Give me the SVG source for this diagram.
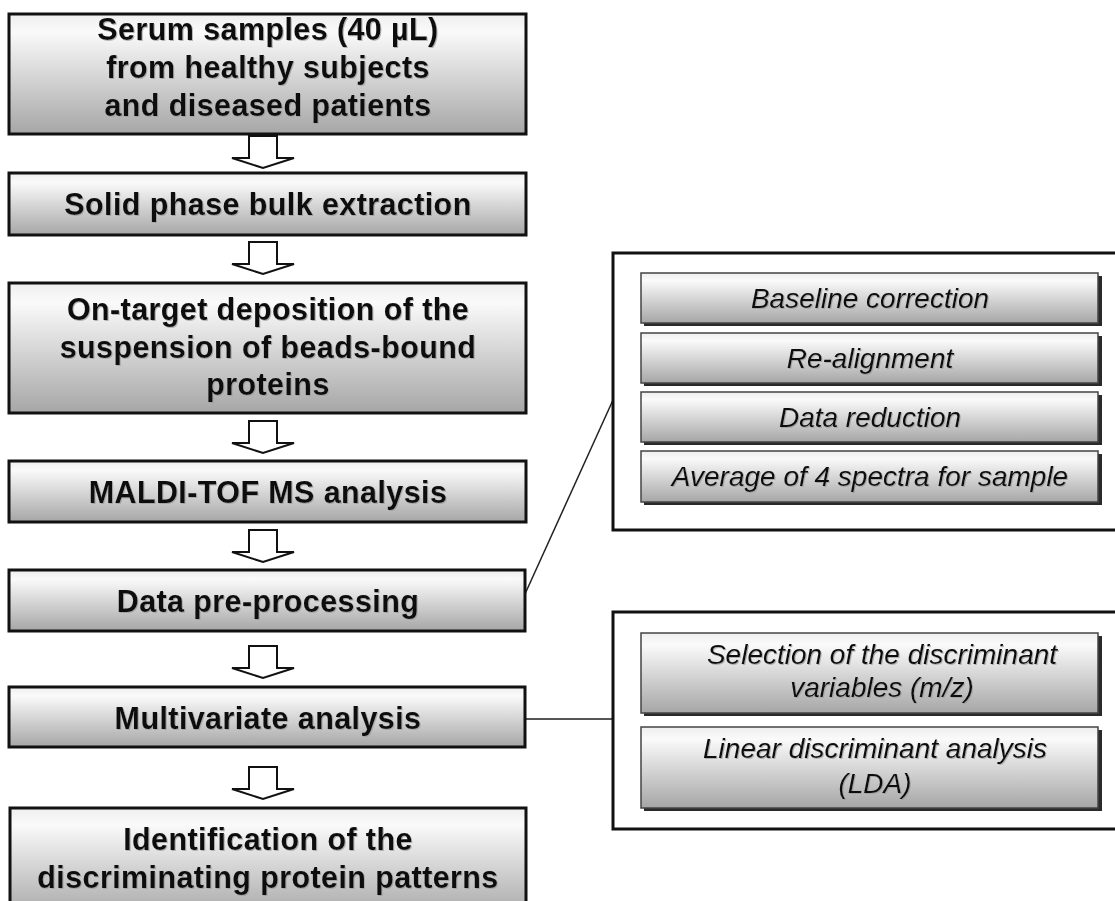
<svg xmlns="http://www.w3.org/2000/svg" width="1115" height="901" viewBox="0 0 1115 901">
<defs>
<linearGradient id="g" x1="0" y1="0" x2="0" y2="1">
<stop offset="0" stop-color="#eeeeee"/>
<stop offset="0.15" stop-color="#fafafa"/>
<stop offset="1" stop-color="#a6a6a6"/>
</linearGradient>
<filter id="ts" x="-5%" y="-20%" width="110%" height="140%">
<feDropShadow dx="1" dy="1" stdDeviation="0.5" flood-color="#999" flood-opacity="0.7"/>
</filter>
<path id="arr" d="M-14,0 H14 V22 H31 L0,32 L-31,22 H-14 Z"/>
</defs>
<style>
.box{fill:url(#g);stroke:#111;stroke-width:3}
.ibox{fill:url(#g);stroke:#444;stroke-width:1.5}
.ishd{fill:#2a2a2a}
.panel{fill:#fff;stroke:#111;stroke-width:3}
.bt{font-family:"Liberation Sans",Arial,sans-serif;font-weight:bold;font-size:30.5px;letter-spacing:0.4px;fill:#111;text-anchor:middle;filter:url(#ts)}
.it{font-family:"Liberation Sans",Arial,sans-serif;font-style:italic;font-size:28px;fill:#111;text-anchor:middle;filter:url(#ts)}
.arrow{fill:#fff;stroke:#111;stroke-width:2;stroke-linejoin:miter}
.line{fill:none;stroke:#222;stroke-width:1.5}
.hline{fill:none;stroke:#555;stroke-width:2}
</style>

<g id="connectors">
<use href="#arr" class="arrow" x="263" y="136"/>
<use href="#arr" class="arrow" x="263" y="242"/>
<use href="#arr" class="arrow" x="263" y="421"/>
<use href="#arr" class="arrow" x="263" y="530"/>
<use href="#arr" class="arrow" x="263" y="646"/>
<use href="#arr" class="arrow" x="263" y="767"/>
<line class="line" x1="525" y1="594" x2="613" y2="400"/>
<line class="hline" x1="525" y1="719" x2="613" y2="719"/>
</g>

<g id="n1">
<rect class="box" x="9" y="14" width="517" height="120"/>
<text class="bt" x="268" y="40">Serum samples (40 µL)</text>
<text class="bt" x="268" y="78">from healthy subjects</text>
<text class="bt" x="268" y="116">and diseased patients</text>
</g>
<g id="n2">
<rect class="box" x="9" y="173" width="517" height="62"/>
<text class="bt" x="268" y="215">Solid phase bulk extraction</text>
</g>
<g id="n3">
<rect class="box" x="9" y="283" width="517" height="130"/>
<text class="bt" x="268" y="320">On-target deposition of the</text>
<text class="bt" x="268" y="358">suspension of beads-bound</text>
<text class="bt" x="268" y="395">proteins</text>
</g>
<g id="n4">
<rect class="box" x="9" y="461" width="517" height="61"/>
<text class="bt" x="268" y="503">MALDI-TOF MS analysis</text>
</g>
<g id="n5">
<rect class="box" x="9" y="570" width="516" height="61"/>
<text class="bt" x="268" y="612">Data pre-processing</text>
</g>
<g id="n6">
<rect class="box" x="9" y="687" width="516" height="60"/>
<text class="bt" x="268" y="729">Multivariate analysis</text>
</g>
<g id="n7">
<rect class="box" x="10" y="808" width="516" height="110"/>
<text class="bt" x="268" y="850">Identification of the</text>
<text class="bt" x="268" y="888">discriminating protein patterns</text>
</g>

<g id="panel1">
<rect class="panel" x="613" y="253" width="520" height="277"/>
<g id="p1a">
<rect class="ishd" x="644" y="276" width="458" height="50"/>
<rect class="ibox" x="641" y="273" width="457" height="50"/>
<text class="it" x="870" y="308">Baseline correction</text>
</g>
<g id="p1b">
<rect class="ishd" x="644" y="336" width="458" height="50"/>
<rect class="ibox" x="641" y="333" width="457" height="50"/>
<text class="it" x="870" y="368">Re-alignment</text>
</g>
<g id="p1c">
<rect class="ishd" x="644" y="395" width="458" height="50"/>
<rect class="ibox" x="641" y="392" width="457" height="50"/>
<text class="it" x="870" y="427">Data reduction</text>
</g>
<g id="p1d">
<rect class="ishd" x="644" y="454" width="458" height="51"/>
<rect class="ibox" x="641" y="451" width="457" height="51"/>
<text class="it" x="870" y="486">Average of 4 spectra for sample</text>
</g>
</g>

<g id="panel2">
<rect class="panel" x="613" y="612" width="520" height="217"/>
<g id="p2a">
<rect class="ishd" x="644" y="636" width="458" height="80"/>
<rect class="ibox" x="641" y="633" width="457" height="80"/>
<text class="it" x="882" y="664">Selection of the discriminant</text>
<text class="it" x="882" y="697">variables (m/z)</text>
</g>
<g id="p2b">
<rect class="ishd" x="644" y="730" width="458" height="81"/>
<rect class="ibox" x="641" y="727" width="457" height="81"/>
<text class="it" x="875" y="758">Linear discriminant analysis</text>
<text class="it" x="875" y="793">(LDA)</text>
</g>
</g>
</svg>
